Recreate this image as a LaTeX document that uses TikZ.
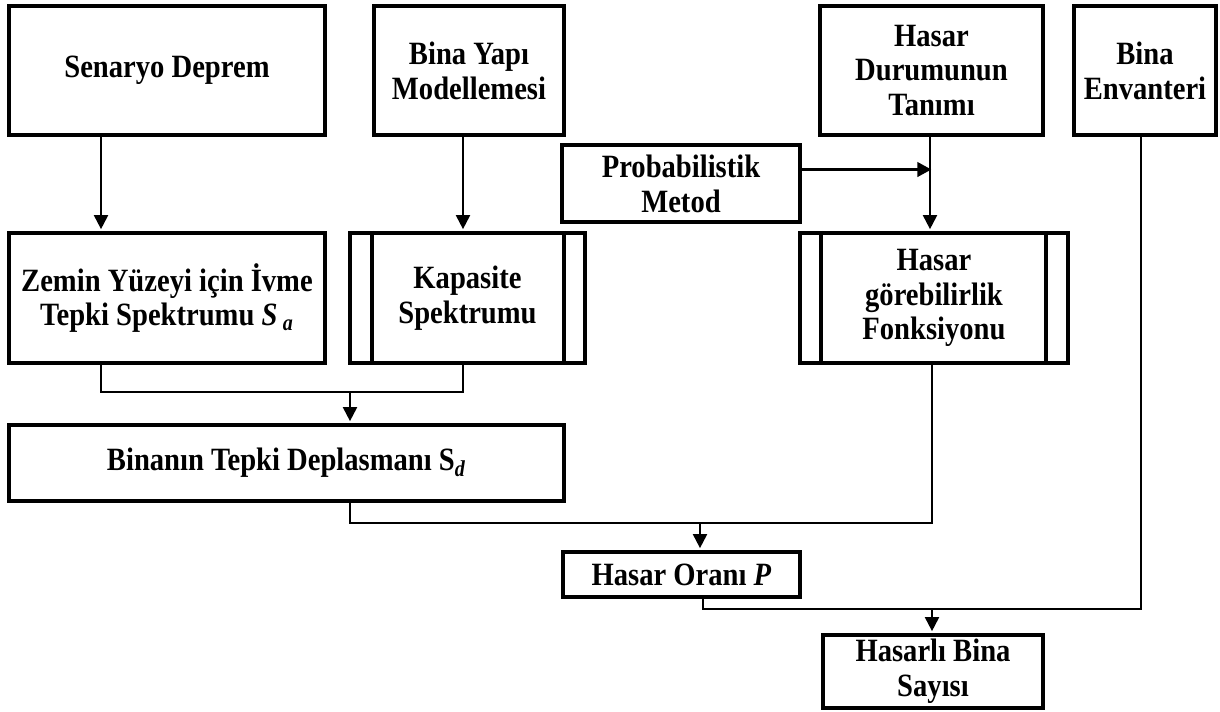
\documentclass[tikz,border=0pt]{standalone}
\usepackage{fontspec}
\setmainfont{Liberation Serif}[FakeStretch=0.88]
\usepackage{tikz}
\usetikzlibrary{arrows.meta, positioning, calc}

\begin{document}
\begin{tikzpicture}[x=0.02cm, y=-0.02cm,
    box/.style={draw, line width=2.4pt, align=center, inner sep=2pt,
      font=\fontsize{18.5}{19.8}\selectfont\bfseries},
    arr/.style={line width=1.1pt, -{Triangle[width=8pt,length=8pt]}, shorten >=1pt},
    link/.style={line width=0.8pt}]
  \useasboundingbox (0,0) rectangle (1220,711);

  % top row
  \node[box, minimum width=6.32cm, minimum height=2.58cm] (senaryo) at (167,70.5) {Senaryo Deprem};
  \node[box, minimum width=3.8cm, minimum height=2.58cm] (bina) at (469,70.5) {Bina Yapı\\Modellemesi};
  \node[box, minimum width=4.46cm, minimum height=2.58cm] (hdurum) at (931.5,70.5) {Hasar\\Durumunun\\Tanımı};
  \node[box, minimum width=2.84cm, minimum height=2.58cm] (envanter) at (1145,70.5) {Bina\\Envanteri};
  \node[box, minimum width=4.76cm, minimum height=1.54cm] (prob) at (681,183.5) {Probabilistik\\Metod};

  % middle row
  \node[box, minimum width=6.32cm, minimum height=2.6cm] (zemin) at (167,298) {Zemin Yüzeyi için İvme\\Tepki Spektrumu \textit{S}\,\textsubscript{\textit{a}}};
  \node[box, minimum width=4.7cm, minimum height=2.6cm] (kapasite) at (467.5,298) {Kapasite\\Spektrumu};
  \node[box, minimum width=5.36cm, minimum height=2.6cm] (hgorebilir) at (934,298) {Hasar\\görebilirlik\\Fonksiyonu};
  \draw[line width=2.4pt] ([xshift=0.48cm]kapasite.north west) -- ([xshift=0.48cm]kapasite.south west);
  \draw[line width=2.4pt] ([xshift=-0.46cm]kapasite.north east) -- ([xshift=-0.46cm]kapasite.south east);
  \draw[line width=2.4pt] ([xshift=0.46cm]hgorebilir.north west) -- ([xshift=0.46cm]hgorebilir.south west);
  \draw[line width=2.4pt] ([xshift=-0.48cm]hgorebilir.north east) -- ([xshift=-0.48cm]hgorebilir.south east);

  % lower part
  \node[box, minimum width=11.1cm, minimum height=1.52cm] (binanin) at (286.5,463) {Binanın Tepki Deplasmanı S\textsubscript{\textit{d}}};
  \node[box, minimum width=4.74cm, minimum height=0.9cm] (oran) at (681.5,574.5) {Hasar Oranı \textit{P}};
  \node[box, minimum width=4.4cm, minimum height=1.46cm] (hasarli) at (933,671.5) {Hasarlı Bina\\Sayısı};

  \coordinate (j1) at (350,392);
  \coordinate (j2) at (700,523);
  \coordinate (j3) at (932,609);

  % connectors
  \draw[arr] ([xshift=-1.32cm]senaryo.south) -- ([xshift=-1.32cm]zemin.north);
  \draw[arr] ([xshift=-0.12cm]bina.south) -- ([xshift=-0.09cm]kapasite.north);
  \draw[arr] ([xshift=-0.03cm]hdurum.south) -- ([xshift=-0.08cm]hgorebilir.north);
  \draw[line width=2.2pt, -{Triangle[width=8pt,length=8pt]}] ([yshift=0.28cm]prob.east) -- ([yshift=0.28cm]prob.east -| hdurum.south);

  \draw[link] ([xshift=-1.32cm]zemin.south) |- (j1) -| ([xshift=-0.09cm]kapasite.south);
  \draw[arr] (j1) -- (j1 |- binanin.north);
  \draw[link] ([xshift=1.27cm]binanin.south) |- (j2) -| ([xshift=-0.04cm]hgorebilir.south);
  \draw[arr] (j2) -- (j2 |- oran.north);
  \draw[link] ([xshift=0.43cm]oran.south) |- (j3) -| ([xshift=-0.08cm]envanter.south);
  \draw[arr] (j3) -- (j3 |- hasarli.north);
\end{tikzpicture}
\end{document}
